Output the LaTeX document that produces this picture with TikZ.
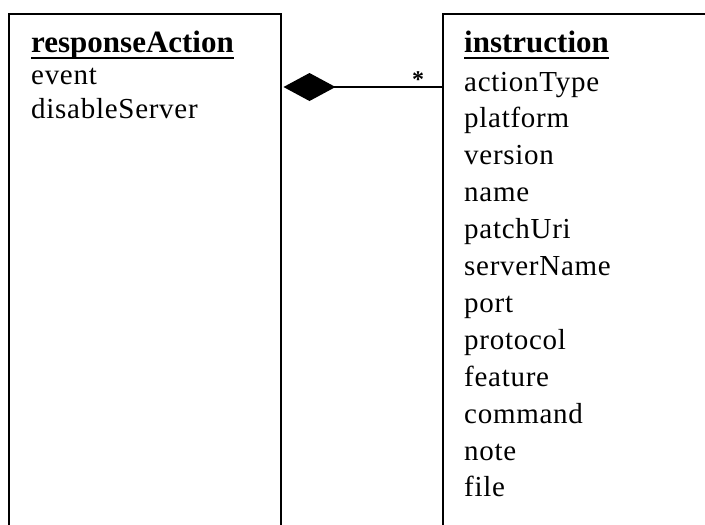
\documentclass[tikz,border=0pt]{standalone}
\usepackage{fontspec}
\setmainfont{Liberation Serif}
\newfontfamily\attrfont[LetterSpace=2.5]{Liberation Serif}
\usetikzlibrary{arrows.meta}

\tikzset{
  classbox/.style={draw, line width=1.5pt, rectangle, anchor=north west,
    minimum height=600pt, inner sep=0pt},
  classname/.style={anchor=base west, inner sep=0pt,
    font=\fontsize{31}{36}\selectfont\bfseries},
  attr/.style={anchor=base west, inner sep=0pt,
    font=\fontsize{29}{34}\attrfont},
  underl/.style={line width=2pt},
  composition/.style={line width=1.5pt, {Diamond[length=52pt,width=28pt]}-, shorten <=2pt},
}

\begin{document}
\begin{tikzpicture}[x=1pt, y=-1pt]
    \useasboundingbox (0,0) rectangle (705,525);
    \clip (0,0) rectangle (705,525);

    % Class boxes (open at the bottom)
    \node[classbox, minimum width=272pt] (resp) at (8,13) {};
    \node[classbox, minimum width=400pt] (instr) at (442,13) {};

    % responseAction
    \node[classname] (resp-name) at (31,52) {responseAction};
    \draw[underl] ([yshift=-6pt]resp-name.base west) -- ([yshift=-6pt]resp-name.base east);
    \node[attr] (resp-1) at (31,84) {event};
    \node[attr] (resp-2) at (31,118) {disableServer};

    % instruction
    \node[classname] (instr-name) at (464,52) {instruction};
    \draw[underl] ([yshift=-6pt]instr-name.base west) -- ([yshift=-6pt]instr-name.base east);
    \foreach \attrib [count=\i from 0] in {actionType, platform, version, name, patchUri,
        serverName, port, protocol, feature, command, note, file}
        \node[attr] (instr-\i) at (464, 91+36.9*\i) {\attrib};

    % Composition
    \coordinate (link) at (0,87);
    \draw[composition] (resp.east |- link) -- (instr.west |- link);
    \node[anchor=base, inner sep=0pt, font=\fontsize{24}{24}\selectfont\bfseries]
        (mult) at ([xshift=-24pt]instr.west |- link) {*};
\end{tikzpicture}
\end{document}
